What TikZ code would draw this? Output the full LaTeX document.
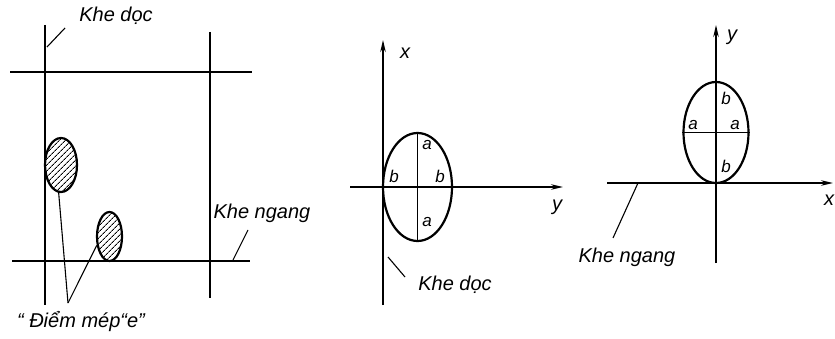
\documentclass[tikz,border=0pt]{standalone}
\usepackage{fontspec}
\setmainfont{Liberation Sans}
\usepackage{tikz}
\usetikzlibrary{arrows.meta,shapes.geometric,patterns.meta}

\begin{document}
\begin{tikzpicture}[x=1pt, y=-1pt,
  slot/.style={line width=1.6pt},
  oval/.style={ellipse, draw, line width=2.2pt, inner sep=0pt},
  hatch/.style={oval, pattern={Lines[angle=45,distance=4pt,line width=1pt]}},
  axis/.style={line width=1.6pt, -{Stealth[length=12pt,width=5.5pt]}},
  lead/.style={line width=1.1pt},
  lbl/.style={font=\fontsize{20}{22}\selectfont\itshape, inner sep=0pt},
  part/.style={font=\fontsize{17}{18}\selectfont\itshape, inner sep=0pt}
]
\useasboundingbox (0,0) rectangle (835,339);

% left: slots with edge points
\draw[slot] (45,25) -- (45,305);
\draw[slot] (210,32) -- (210,298);
\draw[slot] (10,72) -- (252,72);
\draw[slot] (12,261) -- (250,261);
\node[hatch, minimum width=32pt, minimum height=54pt] (spot1) at (61,165) {};
\node[hatch, minimum width=25pt, minimum height=49pt] (spot2) at (109.5,236.5) {};
\node[lbl] (khedoc1) at (116,16) {Khe dọc};
\node[lbl] (khengang1) at (262,213) {Khe ngang};
\node[lbl] (diemmep) at (81,322) {“ Điểm mép“e”};
\coordinate (kd1a) at (47,47);
\coordinate (kd1b) at (65,28);
\coordinate (kn1a) at (233,260);
\coordinate (kn1b) at (248,230);
\coordinate (dm) at (68,303);
\draw[lead] (kd1a) -- (kd1b);
\draw[lead] (kn1a) -- (kn1b);
\draw[lead] (dm) -- (spot1.265);
\draw[lead] (dm) -- (spot2.215);

% middle: ellipse on the vertical slot
\draw[axis] (383,305) -- (383,40);
\draw[axis] (350,187) -- (563,187);
\node[lbl] (x2) at (405,53) {x};
\node[lbl] (y2) at (557,207) {y};
\node[oval, minimum width=69pt, minimum height=108pt] (ov2) at (417.5,187) {};
\draw[slot] (ov2.north) -- (ov2.south);
\node[part] at (427,145) {a};
\node[part] at (427,222) {a};
\node[part] at (394,176) {b};
\node[part] at (440,176) {b};
\node[lbl] (khedoc2) at (455,285) {Khe dọc};
\coordinate (kd2a) at (388,257);
\coordinate (kd2b) at (405,277);
\draw[lead] (kd2a) -- (kd2b);

% right: ellipse on the horizontal slot
\draw[axis] (716,263) -- (716,25);
\draw[axis] (607,183) -- (833,183);
\node[lbl] (y3) at (732,37) {y};
\node[lbl] (x3) at (829,200) {x};
\node[oval, minimum width=65pt, minimum height=101pt] (ov3) at (716,132.5) {};
\draw[slot] (ov3.west) -- (ov3.east);
\node[part] at (726,98) {b};
\node[part] at (726,166) {b};
\node[part] at (693,125) {a};
\node[part] at (735,125) {a};
\node[lbl] (khengang3) at (627,257) {Khe ngang};
\coordinate (kn3a) at (613,238);
\coordinate (kn3b) at (638,183);
\draw[lead] (kn3a) -- (kn3b);
\end{tikzpicture}
\end{document}
